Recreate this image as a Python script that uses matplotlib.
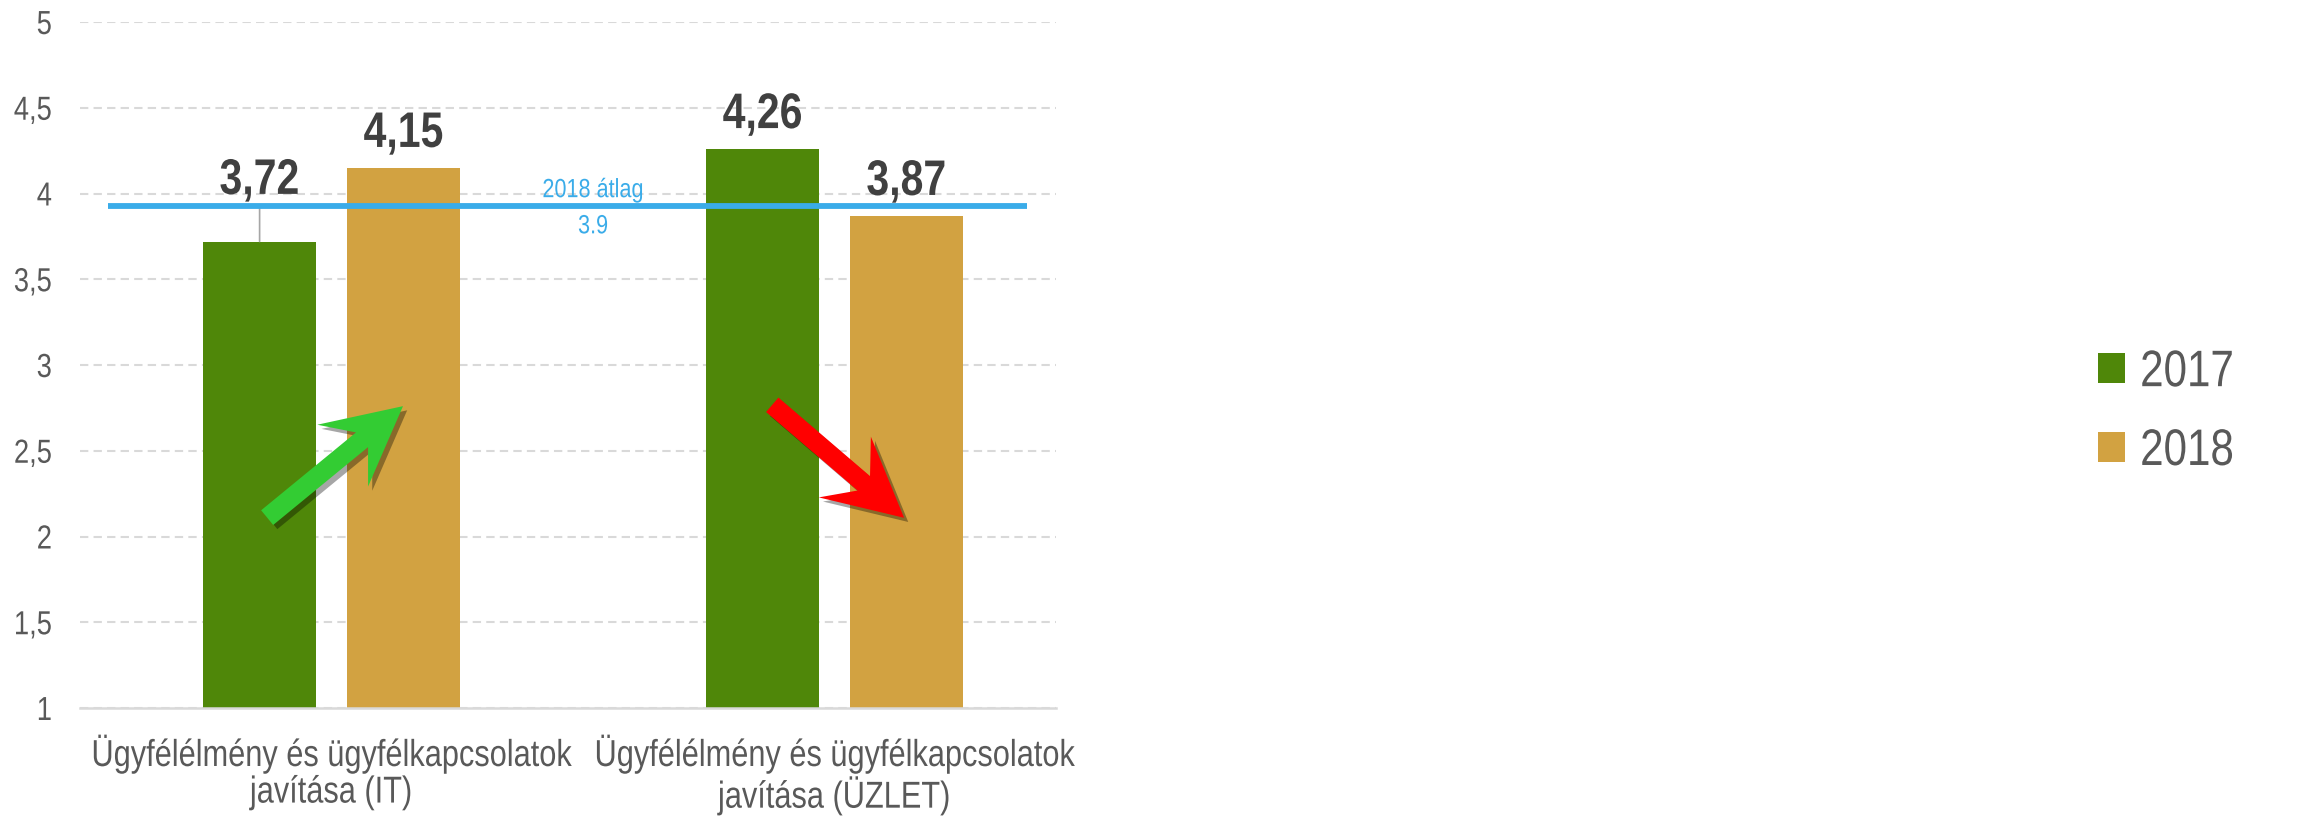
import matplotlib
matplotlib.use("Agg")
import matplotlib.pyplot as plt
import numpy as np
from matplotlib.patches import Polygon
from matplotlib.transforms import Affine2D
import matplotlib.patheffects as pe

plt.rcParams['font.family'] = ['Liberation Sans', 'DejaVu Sans']

# data
categories = ['Ügyfélélmény és ügyfélkapcsolatok\njavítása (IT)',
              'Ügyfélélmény és ügyfélkapcsolatok\njavítása (ÜZLET)']
years = ['2017', '2018']
values_2017 = [3.72, 4.26]
values_2018 = [4.15, 3.87]
avg_2018 = 3.93
avg_label = '2018 átlag'
yticks = [1, 1.5, 2, 2.5, 3, 3.5, 4, 4.5, 5]

green = '#4F8709'
gold = '#D2A241'
blue = '#3AACE9'
grey_txt = '#595959'


class Squeeze(pe.AbstractPathEffect):
    """Narrow the glyphs horizontally (no Arial Narrow available)."""

    def __init__(self, sx=0.82, anchor='center'):
        super().__init__()
        self.sx = sx
        self.anchor = anchor

    def draw_path(self, renderer, gc, tpath, affine, rgbFace=None):
        v = tpath.vertices
        if len(v):
            x0, x1 = v[:, 0].min(), v[:, 0].max()
            cx = {'left': x0, 'center': (x0 + x1) / 2, 'right': x1}[self.anchor]
        else:
            cx = 0
        t = Affine2D().translate(-cx, 0).scale(self.sx, 1).translate(cx, 0) + affine
        renderer.draw_path(gc, tpath, t, rgbFace)


W, H = 2303, 816
fig = plt.figure(figsize=(W / 100, H / 100), dpi=100)
ax = fig.add_axes([80 / W, 1 - 708 / H, (1056 - 80) / W, (708 - 22) / H])

x = np.arange(len(categories))
bw = 0.225
off = 0.143
b1 = ax.bar(x - off, values_2017, bw, color=green, label=years[0], zorder=2)
b2 = ax.bar(x + off, values_2018, bw, color=gold, label=years[1], zorder=2)

ax.set_xlim(-0.5, 1.44)
ax.set_ylim(1, 5)
ax.set_yticks(yticks)
ax.set_yticklabels([f'{t:g}'.replace('.', ',') for t in yticks])
ax.set_xticks(x)
ax.set_xticklabels(categories)
ax.tick_params(axis='y', length=0, pad=20, labelsize=24, labelcolor=grey_txt)
ax.tick_params(axis='x', length=0, pad=18, labelsize=27, labelcolor=grey_txt)
for t in ax.get_yticklabels():
    t.set_path_effects([Squeeze(0.82, 'right')])
for t in ax.get_xticklabels():
    t.set_path_effects([Squeeze(0.82, 'center')])
    t.set_linespacing(1.02)

ax.yaxis.grid(True, color='#D9D9D9', lw=1.5, ls=(0, (4, 2.5)), zorder=0)
ax.set_axisbelow(True)
for s in ['left', 'right', 'top']:
    ax.spines[s].set_visible(False)
ax.spines['bottom'].set_color('#D9D9D9')
ax.spines['bottom'].set_linewidth(1.8)

# average line
ax.plot([-0.444, 1.383], [avg_2018, avg_2018], color=blue, lw=4.2, zorder=4,
        solid_capstyle='butt')
ax.annotate(avg_label, xy=(0.52, avg_2018), xytext=(0, 6), textcoords='offset points',
            ha='center', va='baseline', fontsize=19, color=blue, zorder=4,
            path_effects=[Squeeze(0.82)])
ax.annotate(f'{avg_2018:.1f}', xy=(0.52, avg_2018), xytext=(0, -15),
            textcoords='offset points', ha='center', va='center', fontsize=19,
            color=blue, zorder=4, path_effects=[Squeeze(0.82)])

# value labels
for bars, vals in [(b1, values_2017), (b2, values_2018)]:
    for rect, v in zip(bars, vals):
        cx = rect.get_x() + rect.get_width() / 2
        lab = f'{v:.2f}'.replace('.', ',')
        kw = dict(textcoords='offset points', ha='center', va='baseline', fontsize=36,
                  fontweight='bold', color='#404040', zorder=3)
        if v < avg_2018 and v == values_2017[0]:
            # pushed above the average line, with a leader line
            a = ax.annotate(lab, xy=(cx, v), xytext=(0, 34.3),
                            arrowprops=dict(arrowstyle='-', color='#A6A6A6', lw=1.2,
                                            shrinkA=1, shrinkB=0), **kw)
        else:
            a = ax.annotate(lab, xy=(cx, v), xytext=(0, 15), **kw)
        a.set_path_effects([Squeeze(0.82)])


def trend_arrow(ax, start, end, color, shaft=19, head_w=80, head_l=78, notch=25):
    p0 = ax.transData.transform(start)
    p1 = ax.transData.transform(end)
    d = p1 - p0
    u = d / np.hypot(*d)
    n = np.array([-u[1], u[0]])
    base = p1 - u * head_l
    inner = base + u * notch
    pts = [p0 + n * shaft / 2, inner + n * shaft / 2, base + n * head_w / 2, p1,
           base - n * head_w / 2, inner - n * shaft / 2, p0 - n * shaft / 2]
    pts = ax.transData.inverted().transform(np.array(pts))
    poly = Polygon(pts, closed=True, fc=color, ec='none', zorder=5,
                   path_effects=[pe.SimplePatchShadow(offset=(3, -3), shadow_rgbFace='black',
                                                      alpha=0.35),
                                 pe.Normal()])
    ax.add_patch(poly)


trend_arrow(ax, (-0.128, 2.11), (0.142, 2.76), '#33CC33')
trend_arrow(ax, (0.876, 2.768), (1.138, 2.109), '#FF0000')

leg = fig.legend(handles=[b1, b2], labels=years, loc='center left',
                 bbox_to_anchor=(2098 / W, 0.495), frameon=False, fontsize=37,
                 labelcolor=grey_txt, handlelength=0.52, handleheight=0.52,
                 handletextpad=0.3, labelspacing=0.58, borderpad=0, borderaxespad=0)
for t in leg.get_texts():
    t.set_path_effects([Squeeze(0.82, 'left')])

fig.savefig('out.png', dpi=100)
